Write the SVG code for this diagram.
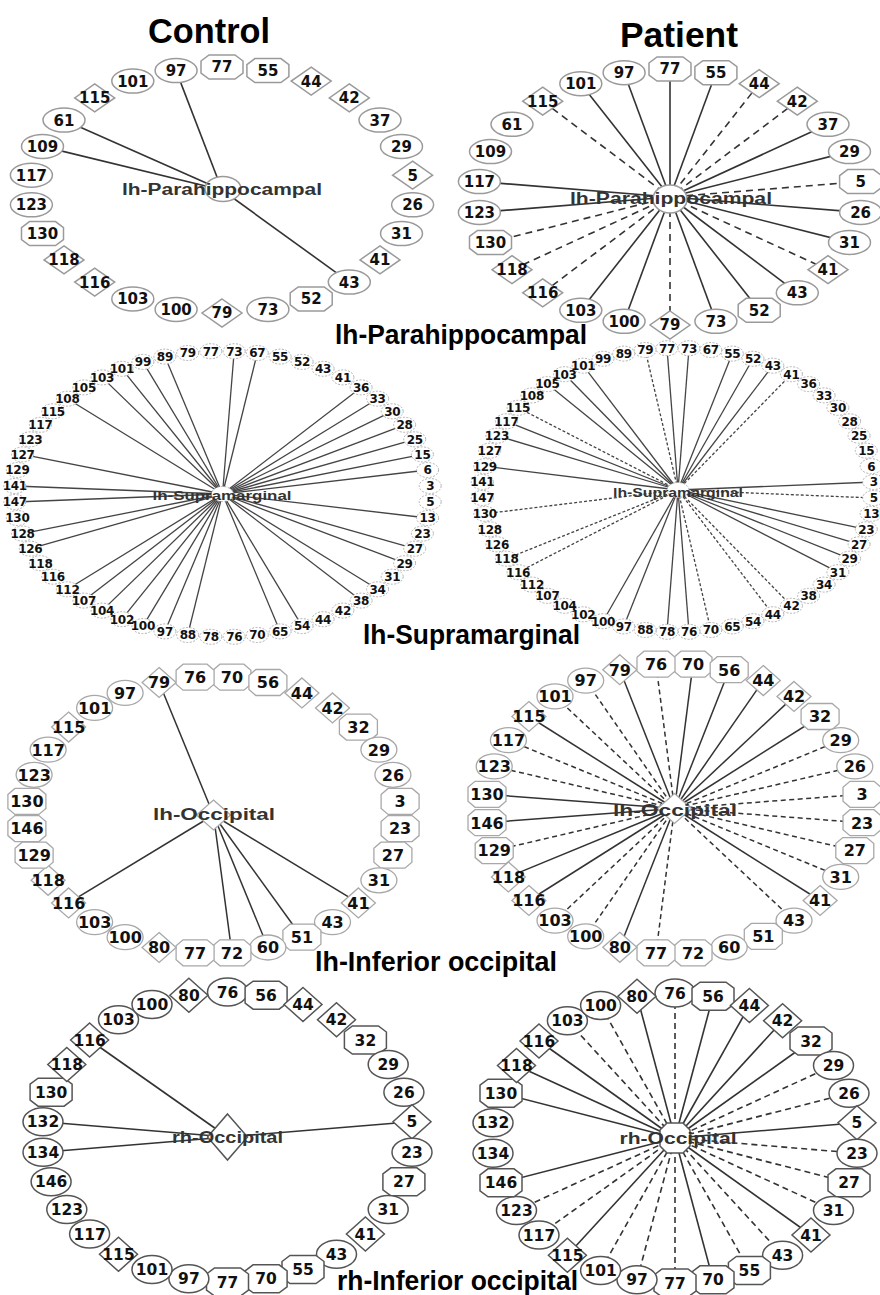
<svg xmlns="http://www.w3.org/2000/svg" xmlns:xlink="http://www.w3.org/1999/xlink" width="880" height="1295" viewBox="0 0 880 1295">
<style>
.s1{fill:#fff;stroke:#9a9a9a;stroke-width:1.5}
.s2{fill:#fff;stroke:#b0b0b0;stroke-width:1;stroke-dasharray:2 1.5}
.s3{fill:#fff;stroke:#a8a8a8;stroke-width:1.3}
.s4{fill:#fff;stroke:#555;stroke-width:1.5}
text{font-family:"DejaVu Sans","Liberation Sans",sans-serif;font-weight:bold;text-anchor:middle;fill:#111}
.t1{font-size:15px}
.t2{font-size:12px;letter-spacing:-0.3px}
.t3{font-size:16px}
.t4{font-size:15.5px}
.cl{font-family:"Liberation Sans",Arial,sans-serif;fill:#333}
.title{font-family:"Liberation Sans",Arial,sans-serif;font-size:35px;fill:#000}
.sec{font-family:"Liberation Sans",Arial,sans-serif;font-size:27px;fill:#000}
line{stroke:#333;stroke-width:1.6;fill:none}
.da1{stroke-dasharray:7 5}
.l2{stroke:#444;stroke-width:1.3}
.do2{stroke-dasharray:3 2}
.l3{stroke-width:1.5}
.da3{stroke-dasharray:5 3.5}
.da4{stroke-dasharray:6 4}
</style>
<defs>
<ellipse id="e1" rx="21" ry="12"/>
<polygon id="o1" points="-21,-6 -13,-12 13,-12 21,-6 21,6 13,12 -13,12 -21,6"/>
<polygon id="d1" points="0,-14 20,0 0,14 -20,0"/>
<ellipse id="e2" rx="11" ry="7.5"/>
<ellipse id="e3" rx="18" ry="12.5"/>
<polygon id="o3" points="-19,-7 -12,-13 12,-13 19,-7 19,7 12,13 -12,13 -19,7"/>
<polygon id="d3" points="0,-15 17,0 0,15 -17,0"/>
<ellipse id="e4" rx="20" ry="14"/>
<polygon id="o4" points="-21,-8 -13,-14 13,-14 21,-8 21,8 13,14 -13,14 -21,8"/>
<polygon id="d4" points="0,-17 19,0 0,17 -19,0"/>
</defs>
<rect width="880" height="1295" fill="#fff"/>

<g id="connectors">
<!-- panel 1 control -->
<line x1="222" y1="190" x2="176.1" y2="70.6"/>
<line x1="222" y1="190" x2="64" y2="120.1"/>
<line x1="222" y1="190" x2="42.5" y2="146.4"/>
<line x1="222" y1="190" x2="349.3" y2="282.1"/>
<!-- panel 1 patient -->
<line x1="670" y1="197" x2="580.8" y2="83.7"/>
<line x1="670" y1="197" x2="624.1" y2="72.7"/>
<line x1="670" y1="197" x2="670" y2="69"/>
<line x1="670" y1="197" x2="715.9" y2="72.7"/>
<line x1="670" y1="197" x2="828" y2="124.3"/>
<line x1="670" y1="197" x2="849.5" y2="151.6"/>
<line x1="670" y1="197" x2="479.4" y2="181.6"/>
<line x1="670" y1="197" x2="479.4" y2="212.4"/>
<line x1="670" y1="197" x2="860.6" y2="212.4"/>
<line x1="670" y1="197" x2="849.5" y2="242.4"/>
<line x1="670" y1="197" x2="797.3" y2="292.8"/>
<line x1="670" y1="197" x2="759.2" y2="310.3"/>
<line x1="670" y1="197" x2="715.9" y2="321.3"/>
<line x1="670" y1="197" x2="624.1" y2="321.3"/>
<line x1="670" y1="197" x2="580.8" y2="310.3"/>
<line class="da1" x1="542.7" y1="101.2" x2="670" y2="197"/>
<line class="da1" x1="759.2" y1="83.7" x2="670" y2="197"/>
<line class="da1" x1="797.3" y1="101.2" x2="670" y2="197"/>
<line class="da1" x1="860.6" y1="181.6" x2="670" y2="197"/>
<line class="da1" x1="490.5" y1="242.4" x2="670" y2="197"/>
<line class="da1" x1="512" y1="269.7" x2="670" y2="197"/>
<line class="da1" x1="542.7" y1="292.8" x2="670" y2="197"/>
<line class="da1" x1="828" y1="269.7" x2="670" y2="197"/>
<line class="da1" x1="670" y1="325" x2="670" y2="197"/>
<!-- panel 2 control -->
<line class="l2" x1="222.5" y1="494" x2="164.9" y2="356.6"/>
<line class="l2" x1="222.5" y1="494" x2="142.9" y2="361.9"/>
<line class="l2" x1="222.5" y1="494" x2="121.9" y2="368.8"/>
<line class="l2" x1="222.5" y1="494" x2="102.1" y2="377.4"/>
<line class="l2" x1="222.5" y1="494" x2="67.4" y2="398.7"/>
<line class="l2" x1="222.5" y1="494" x2="234.2" y2="351.2"/>
<line class="l2" x1="222.5" y1="494" x2="257.3" y2="353"/>
<line class="l2" x1="222.5" y1="494" x2="361.1" y2="387.4"/>
<line class="l2" x1="222.5" y1="494" x2="377.6" y2="398.7"/>
<line class="l2" x1="222.5" y1="494" x2="392.2" y2="411.3"/>
<line class="l2" x1="222.5" y1="494" x2="404.6" y2="424.8"/>
<line class="l2" x1="222.5" y1="494" x2="414.7" y2="439.3"/>
<line class="l2" x1="222.5" y1="494" x2="422.4" y2="454.4"/>
<line class="l2" x1="222.5" y1="494" x2="427.6" y2="470"/>
<line class="l2" x1="222.5" y1="494" x2="427.6" y2="518"/>
<line class="l2" x1="222.5" y1="494" x2="414.7" y2="548.7"/>
<line class="l2" x1="222.5" y1="494" x2="404.6" y2="563.2"/>
<line class="l2" x1="222.5" y1="494" x2="377.6" y2="589.3"/>
<line class="l2" x1="222.5" y1="494" x2="361.1" y2="600.6"/>
<line class="l2" x1="222.5" y1="494" x2="302.1" y2="626.1"/>
<line class="l2" x1="222.5" y1="494" x2="280.1" y2="631.4"/>
<line class="l2" x1="222.5" y1="494" x2="22.6" y2="454.4"/>
<line class="l2" x1="222.5" y1="494" x2="14.8" y2="486"/>
<line class="l2" x1="222.5" y1="494" x2="14.8" y2="502"/>
<line class="l2" x1="222.5" y1="494" x2="22.6" y2="533.6"/>
<line class="l2" x1="222.5" y1="494" x2="30.3" y2="548.7"/>
<line class="l2" x1="222.5" y1="494" x2="67.4" y2="589.3"/>
<line class="l2" x1="222.5" y1="494" x2="83.9" y2="600.6"/>
<line class="l2" x1="222.5" y1="494" x2="102.1" y2="610.6"/>
<line class="l2" x1="222.5" y1="494" x2="121.9" y2="619.2"/>
<line class="l2" x1="222.5" y1="494" x2="142.9" y2="626.1"/>
<line class="l2" x1="222.5" y1="494" x2="164.9" y2="631.4"/>
<line class="l2" x1="222.5" y1="494" x2="187.7" y2="635"/>
<!-- panel 2 patient -->
<line class="l2" x1="678" y1="490" x2="583.2" y2="365.7"/>
<line class="l2" x1="678" y1="490" x2="564.6" y2="374.2"/>
<line class="l2" x1="678" y1="490" x2="547.4" y2="384.1"/>
<line class="l2" x1="678" y1="490" x2="506.4" y2="421.3"/>
<line class="l2" x1="678" y1="490" x2="496.9" y2="435.7"/>
<line class="l2" x1="678" y1="490" x2="484.8" y2="466.2"/>
<line class="l2" x1="678" y1="490" x2="603" y2="621.2"/>
<line class="l2" x1="678" y1="490" x2="623.7" y2="626.4"/>
<line class="l2" x1="678" y1="490" x2="667" y2="348.2"/>
<line class="l2" x1="678" y1="490" x2="689" y2="348.2"/>
<line class="l2" x1="678" y1="490" x2="732.3" y2="353.6"/>
<line class="l2" x1="678" y1="490" x2="753" y2="358.8"/>
<line class="l2" x1="678" y1="490" x2="772.8" y2="365.7"/>
<line class="l2" x1="678" y1="490" x2="873.7" y2="482"/>
<line class="l2" x1="678" y1="490" x2="866.3" y2="529.3"/>
<line class="l2" x1="678" y1="490" x2="859.1" y2="544.3"/>
<line class="l2" x1="678" y1="490" x2="849.6" y2="558.7"/>
<line class="l2" x1="678" y1="490" x2="837.9" y2="572.2"/>
<line class="l2" x1="678" y1="490" x2="667" y2="631.8"/>
<line class="l2" x1="678" y1="490" x2="689" y2="631.8"/>
<line class="l2 do2" x1="518.1" y1="407.8" x2="678" y2="490"/>
<line class="l2 do2" x1="484.8" y1="513.8" x2="678" y2="490"/>
<line class="l2 do2" x1="506.4" y1="558.7" x2="678" y2="490"/>
<line class="l2 do2" x1="518.1" y1="572.2" x2="678" y2="490"/>
<line class="l2 do2" x1="645.2" y1="350" x2="678" y2="490"/>
<line class="l2 do2" x1="791.4" y1="374.2" x2="678" y2="490"/>
<line class="l2 do2" x1="873.7" y1="498" x2="678" y2="490"/>
<line class="l2 do2" x1="791.4" y1="605.8" x2="678" y2="490"/>
<line class="l2 do2" x1="772.8" y1="614.3" x2="678" y2="490"/>
<line class="l2 do2" x1="710.8" y1="630" x2="678" y2="490"/>
<!-- panel 3 control -->
<line class="l3" x1="213.5" y1="815" x2="159.1" y2="682.5"/>
<line class="l3" x1="213.5" y1="815" x2="68.6" y2="902.9"/>
<line class="l3" x1="213.5" y1="815" x2="231.9" y2="952.8"/>
<line class="l3" x1="213.5" y1="815" x2="267.9" y2="947.5"/>
<line class="l3" x1="213.5" y1="815" x2="301.9" y2="937.2"/>
<line class="l3" x1="213.5" y1="815" x2="358.4" y2="902.9"/>
<!-- panel 3 patient -->
<line class="l3" x1="674.5" y1="808.5" x2="619.8" y2="669.7"/>
<line class="l3" x1="674.5" y1="808.5" x2="693" y2="664.2"/>
<line class="l3" x1="674.5" y1="808.5" x2="729.2" y2="669.7"/>
<line class="l3" x1="674.5" y1="808.5" x2="763.3" y2="680.6"/>
<line class="l3" x1="674.5" y1="808.5" x2="794" y2="696.4"/>
<line class="l3" x1="674.5" y1="808.5" x2="820.1" y2="716.5"/>
<line class="l3" x1="674.5" y1="808.5" x2="820.1" y2="900.5"/>
<line class="l3" x1="674.5" y1="808.5" x2="619.8" y2="947.3"/>
<line class="l3" x1="674.5" y1="808.5" x2="528.9" y2="900.5"/>
<line class="l3" x1="674.5" y1="808.5" x2="508.4" y2="876.9"/>
<line class="l3" x1="674.5" y1="808.5" x2="487" y2="822.7"/>
<line class="l3" x1="674.5" y1="808.5" x2="487" y2="794.3"/>
<line class="l3" x1="674.5" y1="808.5" x2="528.9" y2="716.5"/>
<line class="l3 da3" x1="585.7" y1="680.6" x2="674.5" y2="808.5"/>
<line class="l3 da3" x1="555" y1="696.4" x2="674.5" y2="808.5"/>
<line class="l3 da3" x1="656" y1="664.2" x2="674.5" y2="808.5"/>
<line class="l3 da3" x1="840.7" y1="740.2" x2="674.5" y2="808.5"/>
<line class="l3 da3" x1="854.8" y1="766.4" x2="674.5" y2="808.5"/>
<line class="l3 da3" x1="862" y1="794.3" x2="674.5" y2="808.5"/>
<line class="l3 da3" x1="862" y1="822.7" x2="674.5" y2="808.5"/>
<line class="l3 da3" x1="854.8" y1="850.6" x2="674.5" y2="808.5"/>
<line class="l3 da3" x1="840.7" y1="876.9" x2="674.5" y2="808.5"/>
<line class="l3 da3" x1="794" y1="920.6" x2="674.5" y2="808.5"/>
<line class="l3 da3" x1="656" y1="952.8" x2="674.5" y2="808.5"/>
<line class="l3 da3" x1="585.7" y1="936.4" x2="674.5" y2="808.5"/>
<line class="l3 da3" x1="555" y1="920.6" x2="674.5" y2="808.5"/>
<line class="l3 da3" x1="494.2" y1="850.6" x2="674.5" y2="808.5"/>
<line class="l3 da3" x1="494.2" y1="766.4" x2="674.5" y2="808.5"/>
<line class="l3 da3" x1="508.4" y1="740.2" x2="674.5" y2="808.5"/>
<!-- panel 4 control -->
<line x1="227.5" y1="1137" x2="89.6" y2="1040"/>
<line x1="227.5" y1="1137" x2="43" y2="1121.8"/>
<line x1="227.5" y1="1137" x2="43" y2="1152.2"/>
<line x1="227.5" y1="1137" x2="412" y2="1121.8"/>
<!-- panel 4 patient -->
<line x1="675" y1="1138" x2="637" y2="996.2"/>
<line x1="675" y1="1138" x2="713" y2="996.2"/>
<line x1="675" y1="1138" x2="749.4" y2="1005.5"/>
<line x1="675" y1="1138" x2="782.6" y2="1020.7"/>
<line x1="675" y1="1138" x2="811" y2="1041"/>
<line x1="675" y1="1138" x2="857" y2="1122.8"/>
<line x1="675" y1="1138" x2="811" y2="1235"/>
<line x1="675" y1="1138" x2="713" y2="1279.8"/>
<line x1="675" y1="1138" x2="567.4" y2="1255.3"/>
<line x1="675" y1="1138" x2="501" y2="1182.8"/>
<line x1="675" y1="1138" x2="501" y2="1093.2"/>
<line x1="675" y1="1138" x2="516.5" y2="1065.5"/>
<line x1="675" y1="1138" x2="539" y2="1041"/>
<line class="da4" x1="675" y1="993" x2="675" y2="1138"/>
<line class="da4" x1="833.5" y1="1065.5" x2="675" y2="1138"/>
<line class="da4" x1="849" y1="1093.2" x2="675" y2="1138"/>
<line class="da4" x1="857" y1="1153.2" x2="675" y2="1138"/>
<line class="da4" x1="849" y1="1182.8" x2="675" y2="1138"/>
<line class="da4" x1="833.5" y1="1210.5" x2="675" y2="1138"/>
<line class="da4" x1="782.6" y1="1255.3" x2="675" y2="1138"/>
<line class="da4" x1="749.4" y1="1270.5" x2="675" y2="1138"/>
<line class="da4" x1="675" y1="1283" x2="675" y2="1138"/>
<line class="da4" x1="637" y1="1279.8" x2="675" y2="1138"/>
<line class="da4" x1="600.6" y1="1270.5" x2="675" y2="1138"/>
<line class="da4" x1="539" y1="1235" x2="675" y2="1138"/>
<line class="da4" x1="516.5" y1="1210.5" x2="675" y2="1138"/>
<line class="da4" x1="567.4" y1="1020.7" x2="675" y2="1138"/>
<line class="da4" x1="600.6" y1="1005.5" x2="675" y2="1138"/>
</g>

<!-- ===== Panel 1 control nodes ===== -->
<g id="c1-nodes">
<g id="c1-77" transform="translate(222 67)"><use href="#o1" class="s1"/><text class="t1" y="5.4">77</text></g>
<g id="c1-55" transform="translate(267.9 70.6)"><use href="#o1" class="s1"/><text class="t1" y="5.4">55</text></g>
<g id="c1-44" transform="translate(311.2 81.1)"><use href="#d1" class="s1"/><text class="t1" y="5.4">44</text></g>
<g id="c1-42" transform="translate(349.3 97.9)"><use href="#d1" class="s1"/><text class="t1" y="5.4">42</text></g>
<g id="c1-37" transform="translate(380 120.1)"><use href="#e1" class="s1"/><text class="t1" y="5.4">37</text></g>
<g id="c1-29" transform="translate(401.5 146.4)"><use href="#e1" class="s1"/><text class="t1" y="5.4">29</text></g>
<g id="c1-5" transform="translate(412.6 175.2)"><use href="#d1" class="s1"/><text class="t1" y="5.4">5</text></g>
<g id="c1-26" transform="translate(412.6 204.8)"><use href="#e1" class="s1"/><text class="t1" y="5.4">26</text></g>
<g id="c1-31" transform="translate(401.5 233.6)"><use href="#e1" class="s1"/><text class="t1" y="5.4">31</text></g>
<g id="c1-41" transform="translate(380 259.9)"><use href="#d1" class="s1"/><text class="t1" y="5.4">41</text></g>
<g id="c1-43" transform="translate(349.3 282.1)"><use href="#e1" class="s1"/><text class="t1" y="5.4">43</text></g>
<g id="c1-52" transform="translate(311.2 298.9)"><use href="#o1" class="s1"/><text class="t1" y="5.4">52</text></g>
<g id="c1-73" transform="translate(267.9 309.4)"><use href="#e1" class="s1"/><text class="t1" y="5.4">73</text></g>
<g id="c1-79" transform="translate(222 313)"><use href="#d1" class="s1"/><text class="t1" y="5.4">79</text></g>
<g id="c1-100" transform="translate(176.1 309.4)"><use href="#e1" class="s1"/><text class="t1" y="5.4">100</text></g>
<g id="c1-103" transform="translate(132.8 298.9)"><use href="#e1" class="s1"/><text class="t1" y="5.4">103</text></g>
<g id="c1-116" transform="translate(94.7 282.1)"><use href="#d1" class="s1"/><text class="t1" y="5.4">116</text></g>
<g id="c1-118" transform="translate(64 259.9)"><use href="#d1" class="s1"/><text class="t1" y="5.4">118</text></g>
<g id="c1-130" transform="translate(42.5 233.6)"><use href="#o1" class="s1"/><text class="t1" y="5.4">130</text></g>
<g id="c1-123" transform="translate(31.4 204.8)"><use href="#e1" class="s1"/><text class="t1" y="5.4">123</text></g>
<g id="c1-117" transform="translate(31.4 175.2)"><use href="#e1" class="s1"/><text class="t1" y="5.4">117</text></g>
<g id="c1-109" transform="translate(42.5 146.4)"><use href="#e1" class="s1"/><text class="t1" y="5.4">109</text></g>
<g id="c1-61" transform="translate(64 120.1)"><use href="#e1" class="s1"/><text class="t1" y="5.4">61</text></g>
<g id="c1-115" transform="translate(94.7 97.9)"><use href="#d1" class="s1"/><text class="t1" y="5.4">115</text></g>
<g id="c1-101" transform="translate(132.8 81.1)"><use href="#e1" class="s1"/><text class="t1" y="5.4">101</text></g>
<g id="c1-97" transform="translate(176.1 70.6)"><use href="#e1" class="s1"/><text class="t1" y="5.4">97</text></g>
<g id="c1-center"><ellipse cx="223" cy="189" rx="18" ry="12.5" class="s1"/><text class="cl" x="222" y="195" font-size="16" textLength="200" lengthAdjust="spacingAndGlyphs">lh-Parahippocampal</text></g>
</g>

<!-- ===== Panel 1 patient nodes ===== -->
<g id="p1-nodes">
<g id="p1-77" transform="translate(670 69)"><use href="#o1" class="s1"/><text class="t1" y="5.4">77</text></g>
<g id="p1-55" transform="translate(715.9 72.7)"><use href="#o1" class="s1"/><text class="t1" y="5.4">55</text></g>
<g id="p1-44" transform="translate(759.2 83.7)"><use href="#d1" class="s1"/><text class="t1" y="5.4">44</text></g>
<g id="p1-42" transform="translate(797.3 101.2)"><use href="#d1" class="s1"/><text class="t1" y="5.4">42</text></g>
<g id="p1-37" transform="translate(828 124.3)"><use href="#e1" class="s1"/><text class="t1" y="5.4">37</text></g>
<g id="p1-29" transform="translate(849.5 151.6)"><use href="#e1" class="s1"/><text class="t1" y="5.4">29</text></g>
<g id="p1-5" transform="translate(860.6 181.6)"><use href="#o1" class="s1"/><text class="t1" y="5.4">5</text></g>
<g id="p1-26" transform="translate(860.6 212.4)"><use href="#e1" class="s1"/><text class="t1" y="5.4">26</text></g>
<g id="p1-31" transform="translate(849.5 242.4)"><use href="#e1" class="s1"/><text class="t1" y="5.4">31</text></g>
<g id="p1-41" transform="translate(828 269.7)"><use href="#d1" class="s1"/><text class="t1" y="5.4">41</text></g>
<g id="p1-43" transform="translate(797.3 292.8)"><use href="#e1" class="s1"/><text class="t1" y="5.4">43</text></g>
<g id="p1-52" transform="translate(759.2 310.3)"><use href="#o1" class="s1"/><text class="t1" y="5.4">52</text></g>
<g id="p1-73" transform="translate(715.9 321.3)"><use href="#e1" class="s1"/><text class="t1" y="5.4">73</text></g>
<g id="p1-79" transform="translate(670 325)"><use href="#d1" class="s1"/><text class="t1" y="5.4">79</text></g>
<g id="p1-100" transform="translate(624.1 321.3)"><use href="#e1" class="s1"/><text class="t1" y="5.4">100</text></g>
<g id="p1-103" transform="translate(580.8 310.3)"><use href="#e1" class="s1"/><text class="t1" y="5.4">103</text></g>
<g id="p1-116" transform="translate(542.7 292.8)"><use href="#d1" class="s1"/><text class="t1" y="5.4">116</text></g>
<g id="p1-118" transform="translate(512 269.7)"><use href="#d1" class="s1"/><text class="t1" y="5.4">118</text></g>
<g id="p1-130" transform="translate(490.5 242.4)"><use href="#o1" class="s1"/><text class="t1" y="5.4">130</text></g>
<g id="p1-123" transform="translate(479.4 212.4)"><use href="#e1" class="s1"/><text class="t1" y="5.4">123</text></g>
<g id="p1-117" transform="translate(479.4 181.6)"><use href="#e1" class="s1"/><text class="t1" y="5.4">117</text></g>
<g id="p1-109" transform="translate(490.5 151.6)"><use href="#e1" class="s1"/><text class="t1" y="5.4">109</text></g>
<g id="p1-61" transform="translate(512 124.3)"><use href="#e1" class="s1"/><text class="t1" y="5.4">61</text></g>
<g id="p1-115" transform="translate(542.7 101.2)"><use href="#d1" class="s1"/><text class="t1" y="5.4">115</text></g>
<g id="p1-101" transform="translate(580.8 83.7)"><use href="#e1" class="s1"/><text class="t1" y="5.4">101</text></g>
<g id="p1-97" transform="translate(624.1 72.7)"><use href="#e1" class="s1"/><text class="t1" y="5.4">97</text></g>
<g id="p1-center"><ellipse cx="670" cy="199" rx="17" ry="14" class="s1"/><text class="cl" x="671" y="204" font-size="16" textLength="202" lengthAdjust="spacingAndGlyphs">lh-Parahippocampal</text></g>
</g>

<!-- ===== Panel 2 control nodes ===== -->
<g id="c2-nodes">
<g id="c2-73" transform="translate(234.2 351.2)"><use href="#e2" class="s2"/><text class="t2" y="4.3">73</text></g>
<g id="c2-67" transform="translate(257.3 353)"><use href="#e2" class="s2"/><text class="t2" y="4.3">67</text></g>
<g id="c2-55" transform="translate(280.1 356.6)"><use href="#e2" class="s2"/><text class="t2" y="4.3">55</text></g>
<g id="c2-52" transform="translate(302.1 361.9)"><use href="#e2" class="s2"/><text class="t2" y="4.3">52</text></g>
<g id="c2-43" transform="translate(323.1 368.8)"><use href="#e2" class="s2"/><text class="t2" y="4.3">43</text></g>
<g id="c2-41" transform="translate(342.9 377.4)"><use href="#e2" class="s2"/><text class="t2" y="4.3">41</text></g>
<g id="c2-36" transform="translate(361.1 387.4)"><use href="#e2" class="s2"/><text class="t2" y="4.3">36</text></g>
<g id="c2-33" transform="translate(377.6 398.7)"><use href="#e2" class="s2"/><text class="t2" y="4.3">33</text></g>
<g id="c2-30" transform="translate(392.2 411.3)"><use href="#e2" class="s2"/><text class="t2" y="4.3">30</text></g>
<g id="c2-28" transform="translate(404.6 424.8)"><use href="#e2" class="s2"/><text class="t2" y="4.3">28</text></g>
<g id="c2-25" transform="translate(414.7 439.3)"><use href="#e2" class="s2"/><text class="t2" y="4.3">25</text></g>
<g id="c2-15" transform="translate(422.4 454.4)"><use href="#e2" class="s2"/><text class="t2" y="4.3">15</text></g>
<g id="c2-6" transform="translate(427.6 470)"><use href="#e2" class="s2"/><text class="t2" y="4.3">6</text></g>
<g id="c2-3" transform="translate(430.2 486)"><use href="#e2" class="s2"/><text class="t2" y="4.3">3</text></g>
<g id="c2-5" transform="translate(430.2 502)"><use href="#e2" class="s2"/><text class="t2" y="4.3">5</text></g>
<g id="c2-13" transform="translate(427.6 518)"><use href="#e2" class="s2"/><text class="t2" y="4.3">13</text></g>
<g id="c2-23" transform="translate(422.4 533.6)"><use href="#e2" class="s2"/><text class="t2" y="4.3">23</text></g>
<g id="c2-27" transform="translate(414.7 548.7)"><use href="#e2" class="s2"/><text class="t2" y="4.3">27</text></g>
<g id="c2-29" transform="translate(404.6 563.2)"><use href="#e2" class="s2"/><text class="t2" y="4.3">29</text></g>
<g id="c2-31" transform="translate(392.2 576.7)"><use href="#e2" class="s2"/><text class="t2" y="4.3">31</text></g>
<g id="c2-34" transform="translate(377.6 589.3)"><use href="#e2" class="s2"/><text class="t2" y="4.3">34</text></g>
<g id="c2-38" transform="translate(361.1 600.6)"><use href="#e2" class="s2"/><text class="t2" y="4.3">38</text></g>
<g id="c2-42" transform="translate(342.9 610.6)"><use href="#e2" class="s2"/><text class="t2" y="4.3">42</text></g>
<g id="c2-44" transform="translate(323.1 619.2)"><use href="#e2" class="s2"/><text class="t2" y="4.3">44</text></g>
<g id="c2-54" transform="translate(302.1 626.1)"><use href="#e2" class="s2"/><text class="t2" y="4.3">54</text></g>
<g id="c2-65" transform="translate(280.1 631.4)"><use href="#e2" class="s2"/><text class="t2" y="4.3">65</text></g>
<g id="c2-70" transform="translate(257.3 635)"><use href="#e2" class="s2"/><text class="t2" y="4.3">70</text></g>
<g id="c2-76" transform="translate(234.2 636.8)"><use href="#e2" class="s2"/><text class="t2" y="4.3">76</text></g>
<g id="c2-78" transform="translate(210.8 636.8)"><use href="#e2" class="s2"/><text class="t2" y="4.3">78</text></g>
<g id="c2-88" transform="translate(187.7 635)"><use href="#e2" class="s2"/><text class="t2" y="4.3">88</text></g>
<g id="c2-97" transform="translate(164.9 631.4)"><use href="#e2" class="s2"/><text class="t2" y="4.3">97</text></g>
<g id="c2-100" transform="translate(142.9 626.1)"><use href="#e2" class="s2"/><text class="t2" y="4.3">100</text></g>
<g id="c2-102" transform="translate(121.9 619.2)"><use href="#e2" class="s2"/><text class="t2" y="4.3">102</text></g>
<g id="c2-104" transform="translate(102.1 610.6)"><use href="#e2" class="s2"/><text class="t2" y="4.3">104</text></g>
<g id="c2-107" transform="translate(83.9 600.6)"><use href="#e2" class="s2"/><text class="t2" y="4.3">107</text></g>
<g id="c2-112" transform="translate(67.4 589.3)"><use href="#e2" class="s2"/><text class="t2" y="4.3">112</text></g>
<g id="c2-116" transform="translate(52.8 576.7)"><use href="#e2" class="s2"/><text class="t2" y="4.3">116</text></g>
<g id="c2-118" transform="translate(40.4 563.2)"><use href="#e2" class="s2"/><text class="t2" y="4.3">118</text></g>
<g id="c2-126" transform="translate(30.3 548.7)"><use href="#e2" class="s2"/><text class="t2" y="4.3">126</text></g>
<g id="c2-128" transform="translate(22.6 533.6)"><use href="#e2" class="s2"/><text class="t2" y="4.3">128</text></g>
<g id="c2-130" transform="translate(17.4 518)"><use href="#e2" class="s2"/><text class="t2" y="4.3">130</text></g>
<g id="c2-147" transform="translate(14.8 502)"><use href="#e2" class="s2"/><text class="t2" y="4.3">147</text></g>
<g id="c2-141" transform="translate(14.8 486)"><use href="#e2" class="s2"/><text class="t2" y="4.3">141</text></g>
<g id="c2-129" transform="translate(17.4 470)"><use href="#e2" class="s2"/><text class="t2" y="4.3">129</text></g>
<g id="c2-127" transform="translate(22.6 454.4)"><use href="#e2" class="s2"/><text class="t2" y="4.3">127</text></g>
<g id="c2-123" transform="translate(30.3 439.3)"><use href="#e2" class="s2"/><text class="t2" y="4.3">123</text></g>
<g id="c2-117" transform="translate(40.4 424.8)"><use href="#e2" class="s2"/><text class="t2" y="4.3">117</text></g>
<g id="c2-115" transform="translate(52.8 411.3)"><use href="#e2" class="s2"/><text class="t2" y="4.3">115</text></g>
<g id="c2-108" transform="translate(67.4 398.7)"><use href="#e2" class="s2"/><text class="t2" y="4.3">108</text></g>
<g id="c2-105" transform="translate(83.9 387.4)"><use href="#e2" class="s2"/><text class="t2" y="4.3">105</text></g>
<g id="c2-103" transform="translate(102.1 377.4)"><use href="#e2" class="s2"/><text class="t2" y="4.3">103</text></g>
<g id="c2-101" transform="translate(121.9 368.8)"><use href="#e2" class="s2"/><text class="t2" y="4.3">101</text></g>
<g id="c2-99" transform="translate(142.9 361.9)"><use href="#e2" class="s2"/><text class="t2" y="4.3">99</text></g>
<g id="c2-89" transform="translate(164.9 356.6)"><use href="#e2" class="s2"/><text class="t2" y="4.3">89</text></g>
<g id="c2-79" transform="translate(187.7 353)"><use href="#e2" class="s2"/><text class="t2" y="4.3">79</text></g>
<g id="c2-77" transform="translate(210.8 351.2)"><use href="#e2" class="s2"/><text class="t2" y="4.3">77</text></g>
<g id="c2-center"><use href="#e2" class="s2" x="222.5" y="494"/><text class="cl" x="222" y="500" font-size="12" textLength="139" lengthAdjust="spacingAndGlyphs">lh-Supramarginal</text></g>
</g>

<!-- ===== Panel 2 patient nodes ===== -->
<g id="p2-nodes">
<g id="p2-73" transform="translate(689 348.2)"><use href="#e2" class="s2"/><text class="t2" y="4.3">73</text></g>
<g id="p2-67" transform="translate(710.8 350)"><use href="#e2" class="s2"/><text class="t2" y="4.3">67</text></g>
<g id="p2-55" transform="translate(732.3 353.6)"><use href="#e2" class="s2"/><text class="t2" y="4.3">55</text></g>
<g id="p2-52" transform="translate(753 358.8)"><use href="#e2" class="s2"/><text class="t2" y="4.3">52</text></g>
<g id="p2-43" transform="translate(772.8 365.7)"><use href="#e2" class="s2"/><text class="t2" y="4.3">43</text></g>
<g id="p2-41" transform="translate(791.4 374.2)"><use href="#e2" class="s2"/><text class="t2" y="4.3">41</text></g>
<g id="p2-36" transform="translate(808.6 384.1)"><use href="#e2" class="s2"/><text class="t2" y="4.3">36</text></g>
<g id="p2-33" transform="translate(824.1 395.4)"><use href="#e2" class="s2"/><text class="t2" y="4.3">33</text></g>
<g id="p2-30" transform="translate(837.9 407.8)"><use href="#e2" class="s2"/><text class="t2" y="4.3">30</text></g>
<g id="p2-28" transform="translate(849.6 421.3)"><use href="#e2" class="s2"/><text class="t2" y="4.3">28</text></g>
<g id="p2-25" transform="translate(859.1 435.7)"><use href="#e2" class="s2"/><text class="t2" y="4.3">25</text></g>
<g id="p2-15" transform="translate(866.3 450.7)"><use href="#e2" class="s2"/><text class="t2" y="4.3">15</text></g>
<g id="p2-6" transform="translate(871.2 466.2)"><use href="#e2" class="s2"/><text class="t2" y="4.3">6</text></g>
<g id="p2-3" transform="translate(873.7 482)"><use href="#e2" class="s2"/><text class="t2" y="4.3">3</text></g>
<g id="p2-5" transform="translate(873.7 498)"><use href="#e2" class="s2"/><text class="t2" y="4.3">5</text></g>
<g id="p2-13" transform="translate(871.2 513.8)"><use href="#e2" class="s2"/><text class="t2" y="4.3">13</text></g>
<g id="p2-23" transform="translate(866.3 529.3)"><use href="#e2" class="s2"/><text class="t2" y="4.3">23</text></g>
<g id="p2-27" transform="translate(859.1 544.3)"><use href="#e2" class="s2"/><text class="t2" y="4.3">27</text></g>
<g id="p2-29" transform="translate(849.6 558.7)"><use href="#e2" class="s2"/><text class="t2" y="4.3">29</text></g>
<g id="p2-31" transform="translate(837.9 572.2)"><use href="#e2" class="s2"/><text class="t2" y="4.3">31</text></g>
<g id="p2-34" transform="translate(824.1 584.6)"><use href="#e2" class="s2"/><text class="t2" y="4.3">34</text></g>
<g id="p2-38" transform="translate(808.6 595.9)"><use href="#e2" class="s2"/><text class="t2" y="4.3">38</text></g>
<g id="p2-42" transform="translate(791.4 605.8)"><use href="#e2" class="s2"/><text class="t2" y="4.3">42</text></g>
<g id="p2-44" transform="translate(772.8 614.3)"><use href="#e2" class="s2"/><text class="t2" y="4.3">44</text></g>
<g id="p2-54" transform="translate(753 621.2)"><use href="#e2" class="s2"/><text class="t2" y="4.3">54</text></g>
<g id="p2-65" transform="translate(732.3 626.4)"><use href="#e2" class="s2"/><text class="t2" y="4.3">65</text></g>
<g id="p2-70" transform="translate(710.8 630)"><use href="#e2" class="s2"/><text class="t2" y="4.3">70</text></g>
<g id="p2-76" transform="translate(689 631.8)"><use href="#e2" class="s2"/><text class="t2" y="4.3">76</text></g>
<g id="p2-78" transform="translate(667 631.8)"><use href="#e2" class="s2"/><text class="t2" y="4.3">78</text></g>
<g id="p2-88" transform="translate(645.2 630)"><use href="#e2" class="s2"/><text class="t2" y="4.3">88</text></g>
<g id="p2-97" transform="translate(623.7 626.4)"><use href="#e2" class="s2"/><text class="t2" y="4.3">97</text></g>
<g id="p2-100" transform="translate(603 621.2)"><use href="#e2" class="s2"/><text class="t2" y="4.3">100</text></g>
<g id="p2-102" transform="translate(583.2 614.3)"><use href="#e2" class="s2"/><text class="t2" y="4.3">102</text></g>
<g id="p2-104" transform="translate(564.6 605.8)"><use href="#e2" class="s2"/><text class="t2" y="4.3">104</text></g>
<g id="p2-107" transform="translate(547.4 595.9)"><use href="#e2" class="s2"/><text class="t2" y="4.3">107</text></g>
<g id="p2-112" transform="translate(531.9 584.6)"><use href="#e2" class="s2"/><text class="t2" y="4.3">112</text></g>
<g id="p2-116" transform="translate(518.1 572.2)"><use href="#e2" class="s2"/><text class="t2" y="4.3">116</text></g>
<g id="p2-118" transform="translate(506.4 558.7)"><use href="#e2" class="s2"/><text class="t2" y="4.3">118</text></g>
<g id="p2-126" transform="translate(496.9 544.3)"><use href="#e2" class="s2"/><text class="t2" y="4.3">126</text></g>
<g id="p2-128" transform="translate(489.7 529.3)"><use href="#e2" class="s2"/><text class="t2" y="4.3">128</text></g>
<g id="p2-130" transform="translate(484.8 513.8)"><use href="#e2" class="s2"/><text class="t2" y="4.3">130</text></g>
<g id="p2-147" transform="translate(482.3 498)"><use href="#e2" class="s2"/><text class="t2" y="4.3">147</text></g>
<g id="p2-141" transform="translate(482.3 482)"><use href="#e2" class="s2"/><text class="t2" y="4.3">141</text></g>
<g id="p2-129" transform="translate(484.8 466.2)"><use href="#e2" class="s2"/><text class="t2" y="4.3">129</text></g>
<g id="p2-127" transform="translate(489.7 450.7)"><use href="#e2" class="s2"/><text class="t2" y="4.3">127</text></g>
<g id="p2-123" transform="translate(496.9 435.7)"><use href="#e2" class="s2"/><text class="t2" y="4.3">123</text></g>
<g id="p2-117" transform="translate(506.4 421.3)"><use href="#e2" class="s2"/><text class="t2" y="4.3">117</text></g>
<g id="p2-115" transform="translate(518.1 407.8)"><use href="#e2" class="s2"/><text class="t2" y="4.3">115</text></g>
<g id="p2-108" transform="translate(531.9 395.4)"><use href="#e2" class="s2"/><text class="t2" y="4.3">108</text></g>
<g id="p2-105" transform="translate(547.4 384.1)"><use href="#e2" class="s2"/><text class="t2" y="4.3">105</text></g>
<g id="p2-103" transform="translate(564.6 374.2)"><use href="#e2" class="s2"/><text class="t2" y="4.3">103</text></g>
<g id="p2-101" transform="translate(583.2 365.7)"><use href="#e2" class="s2"/><text class="t2" y="4.3">101</text></g>
<g id="p2-99" transform="translate(603 358.8)"><use href="#e2" class="s2"/><text class="t2" y="4.3">99</text></g>
<g id="p2-89" transform="translate(623.7 353.6)"><use href="#e2" class="s2"/><text class="t2" y="4.3">89</text></g>
<g id="p2-79" transform="translate(645.2 350)"><use href="#e2" class="s2"/><text class="t2" y="4.3">79</text></g>
<g id="p2-77" transform="translate(667 348.2)"><use href="#e2" class="s2"/><text class="t2" y="4.3">77</text></g>
<g id="p2-center"><use href="#e2" class="s2" x="678" y="490"/><text class="cl" x="678" y="497" font-size="12" textLength="130" lengthAdjust="spacingAndGlyphs">lh-Supramarginal</text></g>
</g>

<!-- ===== Panel 3 control nodes ===== -->
<g id="c3-nodes">
<g id="c3-70" transform="translate(231.9 677.2)"><use href="#o3" class="s3"/><text class="t3" y="5.8">70</text></g>
<g id="c3-56" transform="translate(267.9 682.5)"><use href="#o3" class="s3"/><text class="t3" y="5.8">56</text></g>
<g id="c3-44" transform="translate(301.9 692.9)"><use href="#d3" class="s3"/><text class="t3" y="5.8">44</text></g>
<g id="c3-42" transform="translate(332.5 707.9)"><use href="#d3" class="s3"/><text class="t3" y="5.8">42</text></g>
<g id="c3-32" transform="translate(358.4 727.1)"><use href="#o3" class="s3"/><text class="t3" y="5.8">32</text></g>
<g id="c3-29" transform="translate(378.9 749.7)"><use href="#e3" class="s3"/><text class="t3" y="5.8">29</text></g>
<g id="c3-26" transform="translate(392.9 774.8)"><use href="#e3" class="s3"/><text class="t3" y="5.8">26</text></g>
<g id="c3-3" transform="translate(400.1 801.4)"><use href="#o3" class="s3"/><text class="t3" y="5.8">3</text></g>
<g id="c3-23" transform="translate(400.1 828.6)"><use href="#o3" class="s3"/><text class="t3" y="5.8">23</text></g>
<g id="c3-27" transform="translate(392.9 855.2)"><use href="#o3" class="s3"/><text class="t3" y="5.8">27</text></g>
<g id="c3-31" transform="translate(378.9 880.3)"><use href="#e3" class="s3"/><text class="t3" y="5.8">31</text></g>
<g id="c3-41" transform="translate(358.4 902.9)"><use href="#d3" class="s3"/><text class="t3" y="5.8">41</text></g>
<g id="c3-43" transform="translate(332.5 922.1)"><use href="#e3" class="s3"/><text class="t3" y="5.8">43</text></g>
<g id="c3-51" transform="translate(301.9 937.2)"><use href="#o3" class="s3"/><text class="t3" y="5.8">51</text></g>
<g id="c3-60" transform="translate(267.9 947.5)"><use href="#e3" class="s3"/><text class="t3" y="5.8">60</text></g>
<g id="c3-72" transform="translate(231.9 952.8)"><use href="#o3" class="s3"/><text class="t3" y="5.8">72</text></g>
<g id="c3-77" transform="translate(195.1 952.8)"><use href="#o3" class="s3"/><text class="t3" y="5.8">77</text></g>
<g id="c3-80" transform="translate(159.1 947.5)"><use href="#d3" class="s3"/><text class="t3" y="5.8">80</text></g>
<g id="c3-100" transform="translate(125.1 937.2)"><use href="#e3" class="s3"/><text class="t3" y="5.8">100</text></g>
<g id="c3-103" transform="translate(94.6 922.1)"><use href="#e3" class="s3"/><text class="t3" y="5.8">103</text></g>
<g id="c3-116" transform="translate(68.6 902.9)"><use href="#d3" class="s3"/><text class="t3" y="5.8">116</text></g>
<g id="c3-118" transform="translate(48.1 880.3)"><use href="#d3" class="s3"/><text class="t3" y="5.8">118</text></g>
<g id="c3-129" transform="translate(34.1 855.2)"><use href="#o3" class="s3"/><text class="t3" y="5.8">129</text></g>
<g id="c3-146" transform="translate(26.9 828.6)"><use href="#o3" class="s3"/><text class="t3" y="5.8">146</text></g>
<g id="c3-130" transform="translate(26.9 801.4)"><use href="#o3" class="s3"/><text class="t3" y="5.8">130</text></g>
<g id="c3-123" transform="translate(34.1 774.8)"><use href="#e3" class="s3"/><text class="t3" y="5.8">123</text></g>
<g id="c3-117" transform="translate(48.1 749.7)"><use href="#e3" class="s3"/><text class="t3" y="5.8">117</text></g>
<g id="c3-115" transform="translate(68.6 727.1)"><use href="#d3" class="s3"/><text class="t3" y="5.8">115</text></g>
<g id="c3-101" transform="translate(94.6 707.9)"><use href="#e3" class="s3"/><text class="t3" y="5.8">101</text></g>
<g id="c3-97" transform="translate(125.1 692.9)"><use href="#e3" class="s3"/><text class="t3" y="5.8">97</text></g>
<g id="c3-79" transform="translate(159.1 682.5)"><use href="#d3" class="s3"/><text class="t3" y="5.8">79</text></g>
<g id="c3-76" transform="translate(195.1 677.2)"><use href="#o3" class="s3"/><text class="t3" y="5.8">76</text></g>
<g id="c3-center"><use href="#d3" class="s3" x="213.5" y="815"/><text class="cl" x="214" y="820" font-size="16" textLength="122" lengthAdjust="spacingAndGlyphs">lh-Occipital</text></g>
</g>

<!-- ===== Panel 3 patient nodes ===== -->
<g id="p3-nodes">
<g id="p3-70" transform="translate(693 664.2)"><use href="#o3" class="s3"/><text class="t3" y="5.8">70</text></g>
<g id="p3-56" transform="translate(729.2 669.7)"><use href="#o3" class="s3"/><text class="t3" y="5.8">56</text></g>
<g id="p3-44" transform="translate(763.3 680.6)"><use href="#d3" class="s3"/><text class="t3" y="5.8">44</text></g>
<g id="p3-42" transform="translate(794 696.4)"><use href="#d3" class="s3"/><text class="t3" y="5.8">42</text></g>
<g id="p3-32" transform="translate(820.1 716.5)"><use href="#o3" class="s3"/><text class="t3" y="5.8">32</text></g>
<g id="p3-29" transform="translate(840.7 740.2)"><use href="#e3" class="s3"/><text class="t3" y="5.8">29</text></g>
<g id="p3-26" transform="translate(854.8 766.4)"><use href="#e3" class="s3"/><text class="t3" y="5.8">26</text></g>
<g id="p3-3" transform="translate(862 794.3)"><use href="#o3" class="s3"/><text class="t3" y="5.8">3</text></g>
<g id="p3-23" transform="translate(862 822.7)"><use href="#o3" class="s3"/><text class="t3" y="5.8">23</text></g>
<g id="p3-27" transform="translate(854.8 850.6)"><use href="#o3" class="s3"/><text class="t3" y="5.8">27</text></g>
<g id="p3-31" transform="translate(840.7 876.9)"><use href="#e3" class="s3"/><text class="t3" y="5.8">31</text></g>
<g id="p3-41" transform="translate(820.1 900.5)"><use href="#d3" class="s3"/><text class="t3" y="5.8">41</text></g>
<g id="p3-43" transform="translate(794 920.6)"><use href="#e3" class="s3"/><text class="t3" y="5.8">43</text></g>
<g id="p3-51" transform="translate(763.3 936.4)"><use href="#o3" class="s3"/><text class="t3" y="5.8">51</text></g>
<g id="p3-60" transform="translate(729.2 947.3)"><use href="#e3" class="s3"/><text class="t3" y="5.8">60</text></g>
<g id="p3-72" transform="translate(693 952.8)"><use href="#o3" class="s3"/><text class="t3" y="5.8">72</text></g>
<g id="p3-77" transform="translate(656 952.8)"><use href="#o3" class="s3"/><text class="t3" y="5.8">77</text></g>
<g id="p3-80" transform="translate(619.8 947.3)"><use href="#d3" class="s3"/><text class="t3" y="5.8">80</text></g>
<g id="p3-100" transform="translate(585.7 936.4)"><use href="#e3" class="s3"/><text class="t3" y="5.8">100</text></g>
<g id="p3-103" transform="translate(555 920.6)"><use href="#e3" class="s3"/><text class="t3" y="5.8">103</text></g>
<g id="p3-116" transform="translate(528.9 900.5)"><use href="#d3" class="s3"/><text class="t3" y="5.8">116</text></g>
<g id="p3-118" transform="translate(508.4 876.9)"><use href="#d3" class="s3"/><text class="t3" y="5.8">118</text></g>
<g id="p3-129" transform="translate(494.2 850.6)"><use href="#o3" class="s3"/><text class="t3" y="5.8">129</text></g>
<g id="p3-146" transform="translate(487 822.7)"><use href="#o3" class="s3"/><text class="t3" y="5.8">146</text></g>
<g id="p3-130" transform="translate(487 794.3)"><use href="#o3" class="s3"/><text class="t3" y="5.8">130</text></g>
<g id="p3-123" transform="translate(494.2 766.4)"><use href="#e3" class="s3"/><text class="t3" y="5.8">123</text></g>
<g id="p3-117" transform="translate(508.4 740.2)"><use href="#e3" class="s3"/><text class="t3" y="5.8">117</text></g>
<g id="p3-115" transform="translate(528.9 716.5)"><use href="#d3" class="s3"/><text class="t3" y="5.8">115</text></g>
<g id="p3-101" transform="translate(555 696.4)"><use href="#e3" class="s3"/><text class="t3" y="5.8">101</text></g>
<g id="p3-97" transform="translate(585.7 680.6)"><use href="#e3" class="s3"/><text class="t3" y="5.8">97</text></g>
<g id="p3-79" transform="translate(619.8 669.7)"><use href="#d3" class="s3"/><text class="t3" y="5.8">79</text></g>
<g id="p3-76" transform="translate(656 664.2)"><use href="#o3" class="s3"/><text class="t3" y="5.8">76</text></g>
<g id="p3-center"><use href="#d3" class="s3" x="674.5" y="808.5"/><text class="cl" x="675" y="816" font-size="16" textLength="124" lengthAdjust="spacingAndGlyphs">lh-Occipital</text></g>
</g>

<!-- ===== Panel 4 control nodes ===== -->
<g id="c4-nodes">
<g id="c4-76" transform="translate(227.5 992)"><use href="#e4" class="s4"/><text class="t4" y="5.6">76</text></g>
<g id="c4-56" transform="translate(266.1 995.2)"><use href="#o4" class="s4"/><text class="t4" y="5.6">56</text></g>
<g id="c4-44" transform="translate(303 1004.5)"><use href="#d4" class="s4"/><text class="t4" y="5.6">44</text></g>
<g id="c4-42" transform="translate(336.5 1019.7)"><use href="#d4" class="s4"/><text class="t4" y="5.6">42</text></g>
<g id="c4-32" transform="translate(365.4 1040)"><use href="#o4" class="s4"/><text class="t4" y="5.6">32</text></g>
<g id="c4-29" transform="translate(388.2 1064.5)"><use href="#e4" class="s4"/><text class="t4" y="5.6">29</text></g>
<g id="c4-26" transform="translate(403.9 1092.2)"><use href="#e4" class="s4"/><text class="t4" y="5.6">26</text></g>
<g id="c4-5" transform="translate(412 1121.8)"><use href="#d4" class="s4"/><text class="t4" y="5.6">5</text></g>
<g id="c4-23" transform="translate(412 1152.2)"><use href="#e4" class="s4"/><text class="t4" y="5.6">23</text></g>
<g id="c4-27" transform="translate(403.9 1181.8)"><use href="#o4" class="s4"/><text class="t4" y="5.6">27</text></g>
<g id="c4-31" transform="translate(388.2 1209.5)"><use href="#e4" class="s4"/><text class="t4" y="5.6">31</text></g>
<g id="c4-41" transform="translate(365.4 1234)"><use href="#d4" class="s4"/><text class="t4" y="5.6">41</text></g>
<g id="c4-43" transform="translate(336.5 1254.3)"><use href="#e4" class="s4"/><text class="t4" y="5.6">43</text></g>
<g id="c4-55" transform="translate(303 1269.5)"><use href="#o4" class="s4"/><text class="t4" y="5.6">55</text></g>
<g id="c4-70" transform="translate(266.1 1278.8)"><use href="#o4" class="s4"/><text class="t4" y="5.6">70</text></g>
<g id="c4-77" transform="translate(227.5 1282)"><use href="#o4" class="s4"/><text class="t4" y="5.6">77</text></g>
<g id="c4-97" transform="translate(188.9 1278.8)"><use href="#e4" class="s4"/><text class="t4" y="5.6">97</text></g>
<g id="c4-101" transform="translate(152 1269.5)"><use href="#e4" class="s4"/><text class="t4" y="5.6">101</text></g>
<g id="c4-115" transform="translate(118.5 1254.3)"><use href="#d4" class="s4"/><text class="t4" y="5.6">115</text></g>
<g id="c4-117" transform="translate(89.6 1234)"><use href="#e4" class="s4"/><text class="t4" y="5.6">117</text></g>
<g id="c4-123" transform="translate(66.8 1209.5)"><use href="#e4" class="s4"/><text class="t4" y="5.6">123</text></g>
<g id="c4-146" transform="translate(51.1 1181.8)"><use href="#e4" class="s4"/><text class="t4" y="5.6">146</text></g>
<g id="c4-134" transform="translate(43 1152.2)"><use href="#e4" class="s4"/><text class="t4" y="5.6">134</text></g>
<g id="c4-132" transform="translate(43 1121.8)"><use href="#e4" class="s4"/><text class="t4" y="5.6">132</text></g>
<g id="c4-130" transform="translate(51.1 1092.2)"><use href="#o4" class="s4"/><text class="t4" y="5.6">130</text></g>
<g id="c4-118" transform="translate(66.8 1064.5)"><use href="#d4" class="s4"/><text class="t4" y="5.6">118</text></g>
<g id="c4-116" transform="translate(89.6 1040)"><use href="#d4" class="s4"/><text class="t4" y="5.6">116</text></g>
<g id="c4-103" transform="translate(118.5 1019.7)"><use href="#e4" class="s4"/><text class="t4" y="5.6">103</text></g>
<g id="c4-100" transform="translate(152 1004.5)"><use href="#e4" class="s4"/><text class="t4" y="5.6">100</text></g>
<g id="c4-80" transform="translate(188.9 995.2)"><use href="#d4" class="s4"/><text class="t4" y="5.6">80</text></g>
<g id="c4-center"><polygon points="227.5,1114 247.5,1137 227.5,1160 207.5,1137" class="s4"/><text class="cl" x="227.5" y="1143" font-size="16" textLength="111" lengthAdjust="spacingAndGlyphs">rh-Occipital</text></g>
</g>

<!-- ===== Panel 4 patient nodes ===== -->
<g id="p4-nodes">
<g id="p4-76" transform="translate(675 993)"><use href="#e4" class="s4"/><text class="t4" y="5.6">76</text></g>
<g id="p4-56" transform="translate(713 996.2)"><use href="#o4" class="s4"/><text class="t4" y="5.6">56</text></g>
<g id="p4-44" transform="translate(749.4 1005.5)"><use href="#d4" class="s4"/><text class="t4" y="5.6">44</text></g>
<g id="p4-42" transform="translate(782.6 1020.7)"><use href="#d4" class="s4"/><text class="t4" y="5.6">42</text></g>
<g id="p4-32" transform="translate(811 1041)"><use href="#o4" class="s4"/><text class="t4" y="5.6">32</text></g>
<g id="p4-29" transform="translate(833.5 1065.5)"><use href="#e4" class="s4"/><text class="t4" y="5.6">29</text></g>
<g id="p4-26" transform="translate(849 1093.2)"><use href="#e4" class="s4"/><text class="t4" y="5.6">26</text></g>
<g id="p4-5" transform="translate(857 1122.8)"><use href="#d4" class="s4"/><text class="t4" y="5.6">5</text></g>
<g id="p4-23" transform="translate(857 1153.2)"><use href="#e4" class="s4"/><text class="t4" y="5.6">23</text></g>
<g id="p4-27" transform="translate(849 1182.8)"><use href="#o4" class="s4"/><text class="t4" y="5.6">27</text></g>
<g id="p4-31" transform="translate(833.5 1210.5)"><use href="#e4" class="s4"/><text class="t4" y="5.6">31</text></g>
<g id="p4-41" transform="translate(811 1235)"><use href="#d4" class="s4"/><text class="t4" y="5.6">41</text></g>
<g id="p4-43" transform="translate(782.6 1255.3)"><use href="#e4" class="s4"/><text class="t4" y="5.6">43</text></g>
<g id="p4-55" transform="translate(749.4 1270.5)"><use href="#o4" class="s4"/><text class="t4" y="5.6">55</text></g>
<g id="p4-70" transform="translate(713 1279.8)"><use href="#o4" class="s4"/><text class="t4" y="5.6">70</text></g>
<g id="p4-77" transform="translate(675 1283)"><use href="#o4" class="s4"/><text class="t4" y="5.6">77</text></g>
<g id="p4-97" transform="translate(637 1279.8)"><use href="#e4" class="s4"/><text class="t4" y="5.6">97</text></g>
<g id="p4-101" transform="translate(600.6 1270.5)"><use href="#e4" class="s4"/><text class="t4" y="5.6">101</text></g>
<g id="p4-115" transform="translate(567.4 1255.3)"><use href="#d4" class="s4"/><text class="t4" y="5.6">115</text></g>
<g id="p4-117" transform="translate(539 1235)"><use href="#e4" class="s4"/><text class="t4" y="5.6">117</text></g>
<g id="p4-123" transform="translate(516.5 1210.5)"><use href="#e4" class="s4"/><text class="t4" y="5.6">123</text></g>
<g id="p4-146" transform="translate(501 1182.8)"><use href="#o4" class="s4"/><text class="t4" y="5.6">146</text></g>
<g id="p4-134" transform="translate(493 1153.2)"><use href="#e4" class="s4"/><text class="t4" y="5.6">134</text></g>
<g id="p4-132" transform="translate(493 1122.8)"><use href="#e4" class="s4"/><text class="t4" y="5.6">132</text></g>
<g id="p4-130" transform="translate(501 1093.2)"><use href="#o4" class="s4"/><text class="t4" y="5.6">130</text></g>
<g id="p4-118" transform="translate(516.5 1065.5)"><use href="#d4" class="s4"/><text class="t4" y="5.6">118</text></g>
<g id="p4-116" transform="translate(539 1041)"><use href="#d4" class="s4"/><text class="t4" y="5.6">116</text></g>
<g id="p4-103" transform="translate(567.4 1020.7)"><use href="#e4" class="s4"/><text class="t4" y="5.6">103</text></g>
<g id="p4-100" transform="translate(600.6 1005.5)"><use href="#e4" class="s4"/><text class="t4" y="5.6">100</text></g>
<g id="p4-80" transform="translate(637 996.2)"><use href="#d4" class="s4"/><text class="t4" y="5.6">80</text></g>
<g id="p4-center"><polygon points="660,1130 667,1123 683,1123 690,1130 690,1146 683,1153 667,1153 660,1146" class="s4"/><text class="cl" x="678" y="1144" font-size="16" textLength="117" lengthAdjust="spacingAndGlyphs">rh-Occipital</text></g>
</g>

<!-- titles and section labels -->
<g id="labels">
<text class="title" x="209" y="43" textLength="122" lengthAdjust="spacingAndGlyphs">Control</text>
<text class="title" x="679" y="47" textLength="118" lengthAdjust="spacingAndGlyphs">Patient</text>
<text class="sec" x="461" y="344" textLength="252" lengthAdjust="spacingAndGlyphs">lh-Parahippocampal</text>
<text class="sec" x="471.5" y="644" textLength="217" lengthAdjust="spacingAndGlyphs">lh-Supramarginal</text>
<text class="sec" x="436" y="971" textLength="242" lengthAdjust="spacingAndGlyphs">lh-Inferior occipital</text>
<text class="sec" x="457.5" y="1290" textLength="241" lengthAdjust="spacingAndGlyphs">rh-Inferior occipital</text>
</g>
</svg>
